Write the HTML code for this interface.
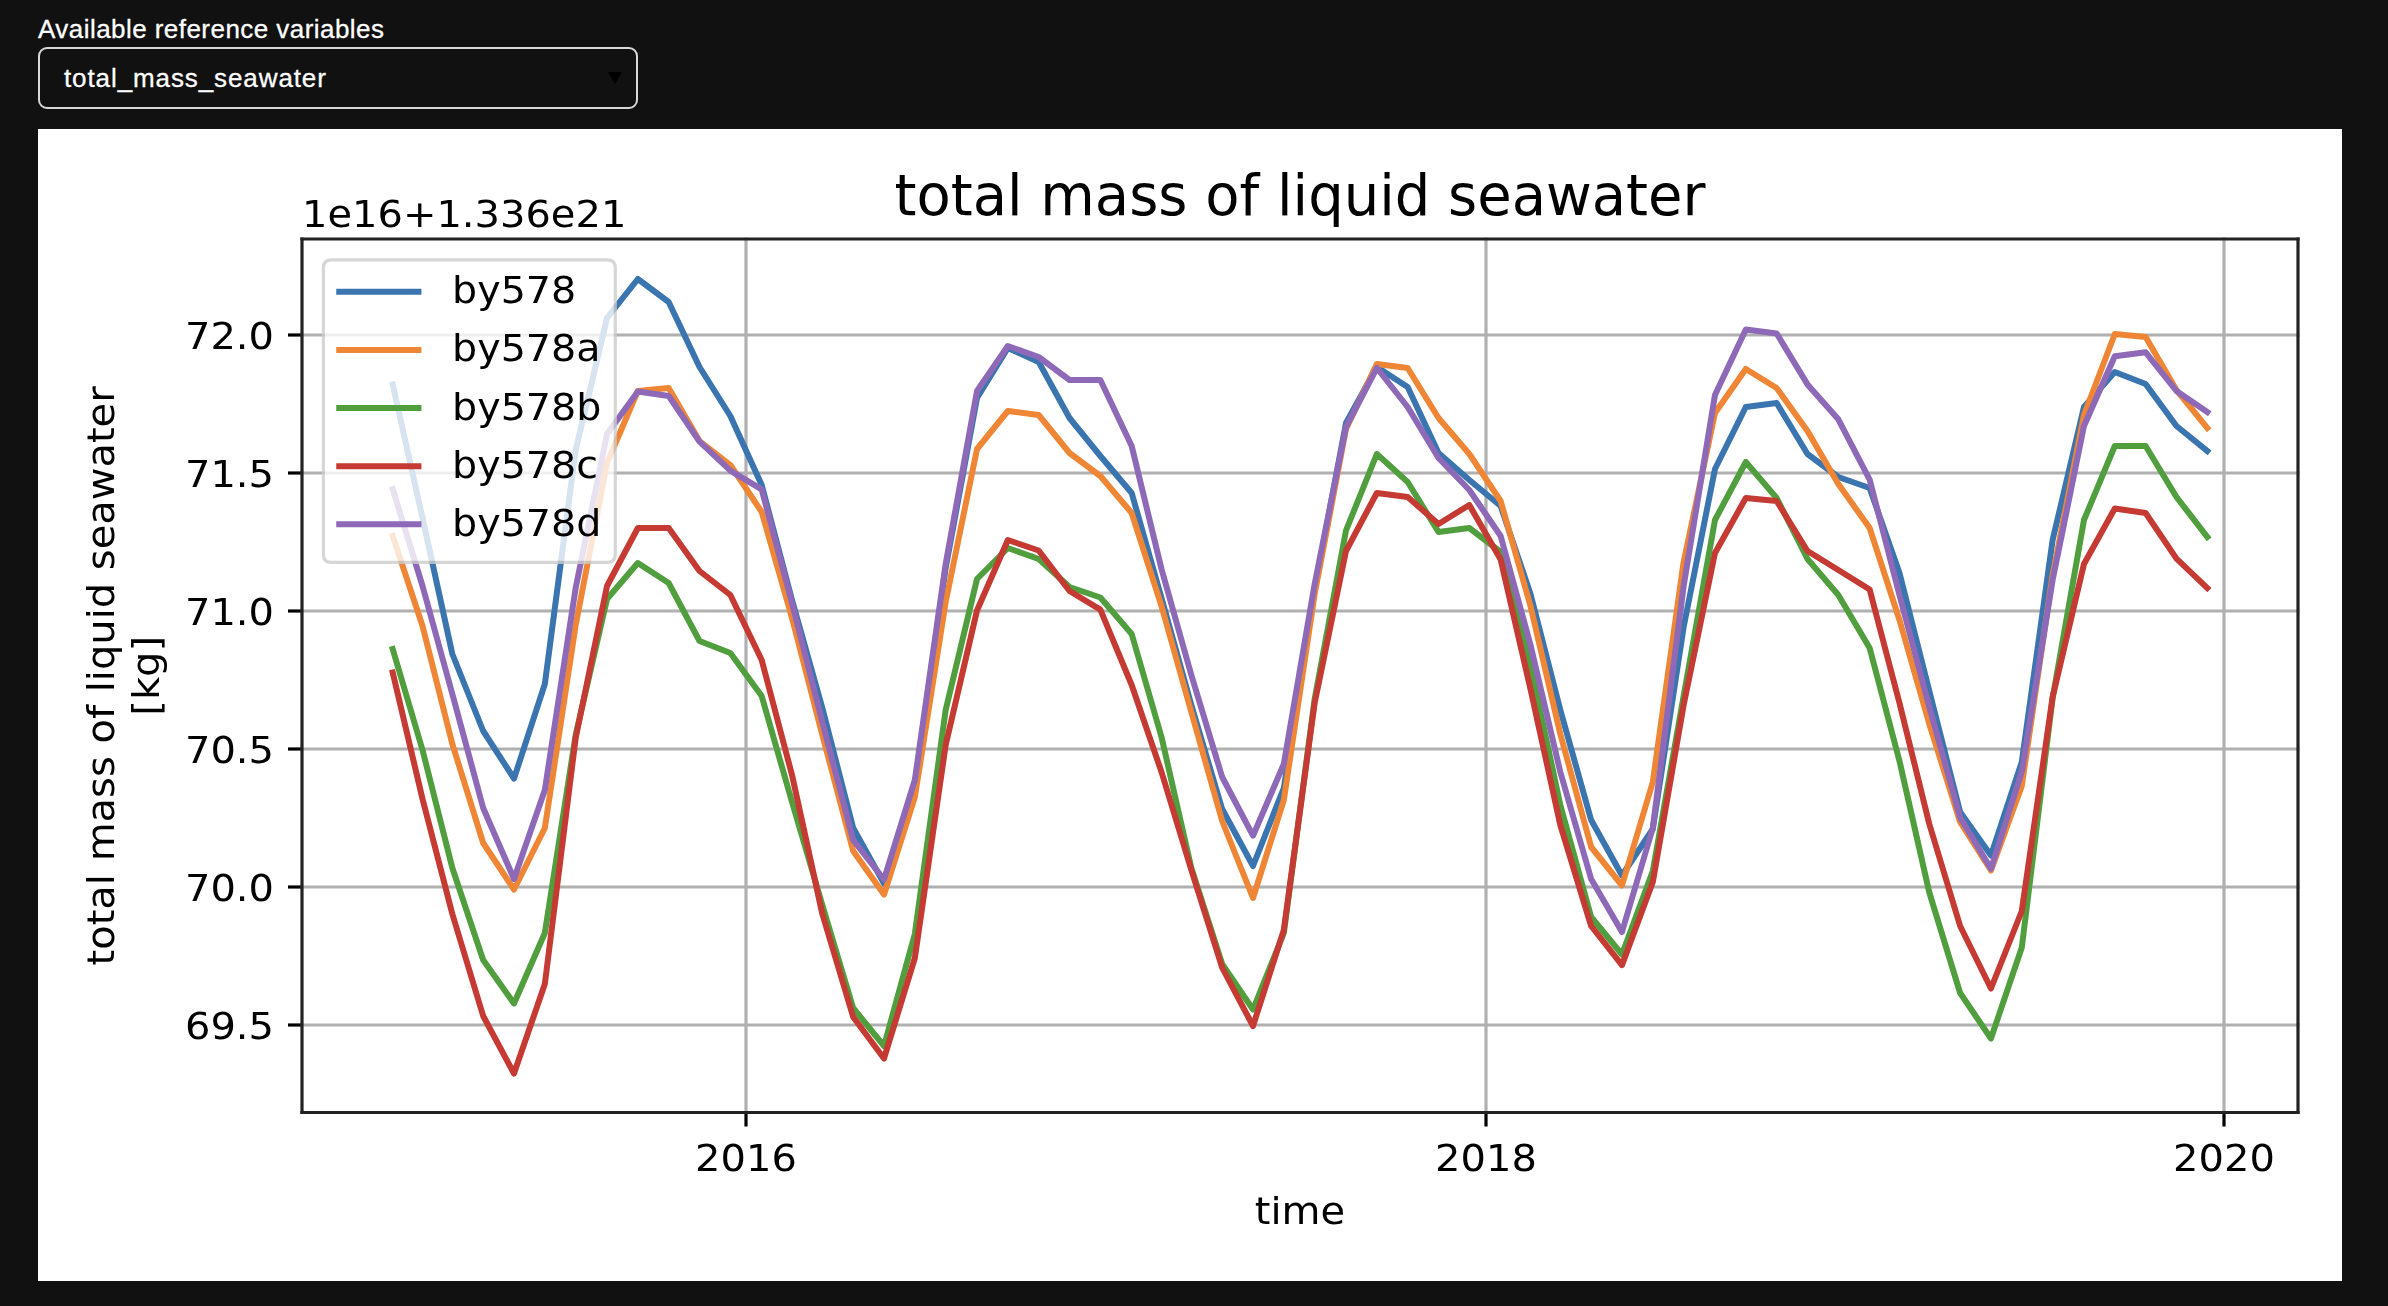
<!DOCTYPE html>
<html>
<head>
<meta charset="utf-8">
<title>Available reference variables</title>
<style>
html,body{margin:0;padding:0;background:#111111;}
body{width:2388px;height:1306px;position:relative;overflow:hidden;font-family:"Liberation Sans",sans-serif;color:#fff;}
.lbl{position:absolute;left:38px;top:13px;font-size:26px;line-height:32px;color:#ffffff;white-space:nowrap;letter-spacing:0.45px;-webkit-text-stroke:0.3px #fff;}
.sel{position:absolute;left:38px;top:47px;width:596px;height:58px;border:2px solid #d8d8d8;border-radius:9px;background:#111111;}
.sel span{position:absolute;left:24px;top:13px;font-size:26px;line-height:32px;white-space:nowrap;letter-spacing:0.9px;-webkit-text-stroke:0.3px #fff;}
.sel i{position:absolute;left:568px;top:23px;width:0;height:0;border-left:7.5px solid transparent;border-right:7.5px solid transparent;border-top:12.5px solid #000;}
.panel{position:absolute;left:38px;top:129px;width:2304px;height:1152px;background:#fff;overflow:hidden;}
.panel svg{display:block;filter:blur(0.6px);}
</style>
</head>
<body>
<div class="lbl">Available reference variables</div>
<div class="sel"><span>total_mass_seawater</span><i></i></div>
<div class="panel">
<svg width="2304" height="1152" viewBox="0 0 576 288">
<style>.mpl *{stroke-linejoin:round;stroke-linecap:butt}</style>
<g id="figure_1" class="mpl">
<g id="patch_1">
<path d="M 0 288 L 576 288 L 576 0 L 0 0 z" style="fill: #ffffff"/>
</g>
<g id="axes_1">
<g id="patch_2">
<path d="M 66 245.875 L 565 245.875 L 565 27.5 L 66 27.5 z" style="fill: #ffffff"/>
</g>
<g id="matplotlib.axis_1">
<g id="xtick_1">
<g id="line2d_1">
<path d="M 177 245.875 L 177 27.5" style="fill: none; stroke: #b0b0b0; stroke-width: 0.8; stroke-linecap: square"/>
</g>
<g id="line2d_2">
<g>
<path d="M 0 0 L 0 3.5" transform="translate(177 245.875)" style="stroke: #000000; stroke-width: 0.8"/>
</g>
</g>
<g id="text_1">
<text style="font-size: 10px; font-family: 'DejaVu Sans', 'Liberation Sans', sans-serif; text-anchor: middle" transform="translate(177.000 260.473) scale(1 0.94)">2016</text>
</g>
</g>
<g id="xtick_2">
<g id="line2d_3">
<path d="M 362 245.875 L 362 27.5" style="fill: none; stroke: #b0b0b0; stroke-width: 0.8; stroke-linecap: square"/>
</g>
<g id="line2d_4">
<g>
<path d="M 0 0 L 0 3.5" transform="translate(362 245.875)" style="stroke: #000000; stroke-width: 0.8"/>
</g>
</g>
<g id="text_2">
<text style="font-size: 10px; font-family: 'DejaVu Sans', 'Liberation Sans', sans-serif; text-anchor: middle" transform="translate(362.000 260.473) scale(1 0.94)">2018</text>
</g>
</g>
<g id="xtick_3">
<g id="line2d_5">
<path d="M 546.5 245.875 L 546.5 27.5" style="fill: none; stroke: #b0b0b0; stroke-width: 0.8; stroke-linecap: square"/>
</g>
<g id="line2d_6">
<g>
<path d="M 0 0 L 0 3.5" transform="translate(546.5 245.875)" style="stroke: #000000; stroke-width: 0.8"/>
</g>
</g>
<g id="text_3">
<text style="font-size: 10px; font-family: 'DejaVu Sans', 'Liberation Sans', sans-serif; text-anchor: middle" transform="translate(546.500 260.473) scale(1 0.94)">2020</text>
</g>
</g>
<g id="text_4">
<text style="font-size: 10px; font-family: 'DejaVu Sans', 'Liberation Sans', sans-serif; text-anchor: middle" transform="translate(315.500 273.802) scale(1 0.94)">time</text>
</g>
</g>
<g id="matplotlib.axis_2">
<g id="ytick_1">
<g id="line2d_7">
<path d="M 66 224 L 565 224" style="fill: none; stroke: #b0b0b0; stroke-width: 0.8; stroke-linecap: square"/>
</g>
<g id="line2d_8">
<g>
<path d="M 0 0 L -3.5 0" transform="translate(66 224)" style="stroke: #000000; stroke-width: 0.8"/>
</g>
</g>
<g id="text_5">
<text style="font-size: 10px; font-family: 'DejaVu Sans', 'Liberation Sans', sans-serif; text-anchor: end" transform="translate(59.000 227.499) scale(1 0.94)">69.5</text>
</g>
</g>
<g id="ytick_2">
<g id="line2d_9">
<path d="M 66 189.5 L 565 189.5" style="fill: none; stroke: #b0b0b0; stroke-width: 0.8; stroke-linecap: square"/>
</g>
<g id="line2d_10">
<g>
<path d="M 0 0 L -3.5 0" transform="translate(66 189.5)" style="stroke: #000000; stroke-width: 0.8"/>
</g>
</g>
<g id="text_6">
<text style="font-size: 10px; font-family: 'DejaVu Sans', 'Liberation Sans', sans-serif; text-anchor: end" transform="translate(59.000 192.999) scale(1 0.94)">70.0</text>
</g>
</g>
<g id="ytick_3">
<g id="line2d_11">
<path d="M 66 155 L 565 155" style="fill: none; stroke: #b0b0b0; stroke-width: 0.8; stroke-linecap: square"/>
</g>
<g id="line2d_12">
<g>
<path d="M 0 0 L -3.5 0" transform="translate(66 155)" style="stroke: #000000; stroke-width: 0.8"/>
</g>
</g>
<g id="text_7">
<text style="font-size: 10px; font-family: 'DejaVu Sans', 'Liberation Sans', sans-serif; text-anchor: end" transform="translate(59.000 158.499) scale(1 0.94)">70.5</text>
</g>
</g>
<g id="ytick_4">
<g id="line2d_13">
<path d="M 66 120.5 L 565 120.5" style="fill: none; stroke: #b0b0b0; stroke-width: 0.8; stroke-linecap: square"/>
</g>
<g id="line2d_14">
<g>
<path d="M 0 0 L -3.5 0" transform="translate(66 120.5)" style="stroke: #000000; stroke-width: 0.8"/>
</g>
</g>
<g id="text_8">
<text style="font-size: 10px; font-family: 'DejaVu Sans', 'Liberation Sans', sans-serif; text-anchor: end" transform="translate(59.000 123.999) scale(1 0.94)">71.0</text>
</g>
</g>
<g id="ytick_5">
<g id="line2d_15">
<path d="M 66 86 L 565 86" style="fill: none; stroke: #b0b0b0; stroke-width: 0.8; stroke-linecap: square"/>
</g>
<g id="line2d_16">
<g>
<path d="M 0 0 L -3.5 0" transform="translate(66 86)" style="stroke: #000000; stroke-width: 0.8"/>
</g>
</g>
<g id="text_9">
<text style="font-size: 10px; font-family: 'DejaVu Sans', 'Liberation Sans', sans-serif; text-anchor: end" transform="translate(59.000 89.499) scale(1 0.94)">71.5</text>
</g>
</g>
<g id="ytick_6">
<g id="line2d_17">
<path d="M 66 51.5 L 565 51.5" style="fill: none; stroke: #b0b0b0; stroke-width: 0.8; stroke-linecap: square"/>
</g>
<g id="line2d_18">
<g>
<path d="M 0 0 L -3.5 0" transform="translate(66 51.5)" style="stroke: #000000; stroke-width: 0.8"/>
</g>
</g>
<g id="text_10">
<text style="font-size: 10px; font-family: 'DejaVu Sans', 'Liberation Sans', sans-serif; text-anchor: end" transform="translate(59.000 54.999) scale(1 0.94)">72.0</text>
</g>
</g>
<g id="text_11">
<text style="font-size: 10px; font-family: 'DejaVu Sans', 'Liberation Sans', sans-serif" transform="translate(19.007 209.115) rotate(-90) scale(1 0.94)">total mass of liquid seawater</text>
<text style="font-size: 10px; font-family: 'DejaVu Sans', 'Liberation Sans', sans-serif" transform="translate(30.205 146.659) rotate(-90) scale(1 0.94)">[kg]</text>
</g>
<g id="text_12">
<text style="font-size: 10px; font-family: 'DejaVu Sans', 'Liberation Sans', sans-serif; text-anchor: start" transform="translate(66.000 24.500) scale(1 0.94)">1e16+1.336e21</text>
</g>
</g>
<g id="line2d_19">
<path d="M 88.675 63.875 L 96.130529 97.25 L 103.586058 131.25 L 111.294318 150.5 L 119.002577 162.375 L 126.710836 138.75 L 134.419095 80.25 L 142.253719 47.25 L 149.961978 37.5 L 157.670237 43.25 L 165.378496 59.5 L 173.086755 71.75 L 180.921379 89 L 188.503273 117.75 L 196.085167 144.75 L 203.793426 174.75 L 211.501685 188.625 L 219.209944 164 L 226.918203 109.75 L 234.752827 67.25 L 242.461086 54.75 L 250.169345 58.25 L 257.877604 72.25 L 265.585864 81.75 L 273.420487 91 L 280.876017 117.25 L 288.331546 144 L 296.039805 170 L 303.748064 184.25 L 311.456323 164.75 L 319.164582 115 L 326.999206 73.5 L 334.707465 59.5 L 342.415724 64.5 L 350.123983 81 L 357.832242 87.75 L 365.666866 94.25 L 373.122396 116.25 L 380.577925 145.25 L 388.286184 172.75 L 395.994443 186.625 L 403.702702 175 L 411.410961 124.5 L 419.245585 85 L 426.953844 69.5 L 434.662103 68.5 L 442.370362 81.25 L 450.078621 87 L 457.913245 89.75 L 465.368774 111 L 472.824304 140.5 L 480.532563 170.75 L 488.240822 181.625 L 495.949081 158.25 L 503.65734 102.75 L 511.491964 69.5 L 519.200223 60.75 L 526.908482 63.75 L 534.616741 74.25 L 542.325 80.5" style="fill: none; stroke: #3b75af; stroke-width: 1.5; stroke-linecap: square"/>
</g>
<g id="line2d_20">
<path d="M 88.675 101.75 L 96.130529 124.25 L 103.586058 153.75 L 111.294318 178.5 L 119.002577 190.125 L 126.710836 174.75 L 134.419095 124 L 142.253719 83.5 L 149.961978 65.5 L 157.670237 64.75 L 165.378496 78 L 173.086755 84 L 180.921379 95.75 L 188.503273 122.25 L 196.085167 151.5 L 203.793426 180.5 L 211.501685 191.375 L 219.209944 167 L 226.918203 118.25 L 234.752827 80 L 242.461086 70.5 L 250.169345 71.5 L 257.877604 81 L 265.585864 86.75 L 273.420487 96 L 280.876017 119.25 L 288.331546 145.75 L 296.039805 173 L 303.748064 192.25 L 311.456323 167.75 L 319.164582 116.25 L 326.999206 75 L 334.707465 58.75 L 342.415724 59.75 L 350.123983 72.25 L 357.832242 81.25 L 365.666866 93 L 373.122396 119.25 L 380.577925 151.25 L 388.286184 179.5 L 395.994443 189.125 L 403.702702 163.25 L 411.410961 108.25 L 419.245585 71 L 426.953844 60 L 434.662103 64.75 L 442.370362 75.5 L 450.078621 88.75 L 457.913245 99.75 L 465.368774 122.75 L 472.824304 148.75 L 480.532563 173.25 L 488.240822 185.375 L 495.949081 164.25 L 503.65734 111.5 L 511.491964 71.5 L 519.200223 51.25 L 526.908482 52 L 534.616741 65.25 L 542.325 74.75" style="fill: none; stroke: #ef8636; stroke-width: 1.5; stroke-linecap: square"/>
</g>
<g id="line2d_21">
<path d="M 88.675 130 L 96.130529 155.25 L 103.586058 184.75 L 111.294318 207.75 L 119.002577 218.625 L 126.710836 201 L 134.419095 151.5 L 142.253719 117.5 L 149.961978 108.5 L 157.670237 113.5 L 165.378496 128 L 173.086755 131 L 180.921379 141.75 L 188.503273 168.25 L 196.085167 194 L 203.793426 219.75 L 211.501685 229.25 L 219.209944 201.25 L 226.918203 145.25 L 234.752827 112.5 L 242.461086 104.75 L 250.169345 107.5 L 257.877604 114.5 L 265.585864 117.125 L 273.420487 126.25 L 280.876017 152 L 288.331546 184.75 L 296.039805 208.75 L 303.748064 220.125 L 311.456323 201 L 319.164582 142.5 L 326.999206 100.375 L 334.707465 81.25 L 342.415724 88.25 L 350.123983 100.75 L 357.832242 99.75 L 365.666866 105.75 L 373.122396 134 L 380.577925 169 L 388.286184 197 L 395.994443 206.375 L 403.702702 185.5 L 411.410961 141.75 L 419.245585 97.75 L 426.953844 83.25 L 434.662103 92.25 L 442.370362 107.5 L 450.078621 116.5 L 457.913245 129.75 L 465.368774 158 L 472.824304 190.875 L 480.532563 216 L 488.240822 227.375 L 495.949081 204.625 L 503.65734 142.25 L 511.491964 97.75 L 519.200223 79.25 L 526.908482 79.25 L 534.616741 92 L 542.325 102" style="fill: none; stroke: #519e3e; stroke-width: 1.5; stroke-linecap: square"/>
</g>
<g id="line2d_22">
<path d="M 88.675 135.875 L 96.130529 167.5 L 103.586058 196.25 L 111.294318 221.75 L 119.002577 236.125 L 126.710836 213.75 L 134.419095 152.25 L 142.253719 114.25 L 149.961978 99.75 L 157.670237 99.75 L 165.378496 110.5 L 173.086755 116.5 L 180.921379 132.75 L 188.503273 161.5 L 196.085167 196.25 L 203.793426 222 L 211.501685 232.375 L 219.209944 207.25 L 226.918203 154 L 234.752827 120.375 L 242.461086 102.75 L 250.169345 105.375 L 257.877604 115.5 L 265.585864 120.15 L 273.420487 139 L 280.876017 160.75 L 288.331546 185.25 L 296.039805 209.65 L 303.748064 224.25 L 311.456323 200.25 L 319.164582 143.5 L 326.999206 105.5 L 334.707465 91 L 342.415724 92 L 350.123983 98.75 L 357.832242 94 L 365.666866 107.625 L 373.122396 140 L 380.577925 174 L 388.286184 199.25 L 395.994443 209.025 L 403.702702 188.25 L 411.410961 144 L 419.245585 106 L 426.953844 92.25 L 434.662103 93 L 442.370362 105.5 L 450.078621 110.25 L 457.913245 115.125 L 465.368774 143.5 L 472.824304 173.75 L 480.532563 199.25 L 488.240822 214.875 L 495.949081 195.5 L 503.65734 142 L 511.491964 108.75 L 519.200223 94.875 L 526.908482 96 L 534.616741 107.4 L 542.325 114.75" style="fill: none; stroke: #c53a32; stroke-width: 1.5; stroke-linecap: square"/>
</g>
<g id="line2d_23">
<path d="M 88.675 90 L 96.130529 114.25 L 103.586058 141.25 L 111.294318 169.75 L 119.002577 187.5 L 126.710836 165.25 L 134.419095 114.75 L 142.253719 76.25 L 149.961978 65.625 L 157.670237 66.75 L 165.378496 78.15 L 173.086755 85.4 L 180.921379 90.1 L 188.503273 118.5 L 196.085167 148.25 L 203.793426 177.75 L 211.501685 187.625 L 219.209944 162.75 L 226.918203 108.75 L 234.752827 65.5 L 242.461086 54.25 L 250.169345 57 L 257.877604 62.75 L 265.585864 62.75 L 273.420487 79.25 L 280.876017 110 L 288.331546 136.5 L 296.039805 162 L 303.748064 176.675 L 311.456323 158.75 L 319.164582 113.75 L 326.999206 74.5 L 334.707465 59.75 L 342.415724 69.5 L 350.123983 82.25 L 357.832242 90.25 L 365.666866 101.75 L 373.122396 129 L 380.577925 160.75 L 388.286184 187.5 L 395.994443 200.75 L 403.702702 174.75 L 411.410961 114.25 L 419.245585 66.5 L 426.953844 50.125 L 434.662103 51.125 L 442.370362 63.85 L 450.078621 72.575 L 457.913245 87.65 L 465.368774 116.5 L 472.824304 144.5 L 480.532563 172.1 L 488.240822 184.95 L 495.949081 160.675 L 503.65734 112.75 L 511.491964 74.25 L 519.200223 56.825 L 526.908482 55.825 L 534.616741 65.5 L 542.325 70.75" style="fill: none; stroke: #8d69b8; stroke-width: 1.5; stroke-linecap: square"/>
</g>
<g id="patch_3">
<path d="M 66 245.875 L 66 27.5" style="fill: none; stroke: #222222; stroke-width: 0.8; stroke-linejoin: miter; stroke-linecap: square"/>
</g>
<g id="patch_4">
<path d="M 565 245.875 L 565 27.5" style="fill: none; stroke: #222222; stroke-width: 0.8; stroke-linejoin: miter; stroke-linecap: square"/>
</g>
<g id="patch_5">
<path d="M 66 245.875 L 565 245.875" style="fill: none; stroke: #222222; stroke-width: 0.8; stroke-linejoin: miter; stroke-linecap: square"/>
</g>
<g id="patch_6">
<path d="M 66 27.5 L 565 27.5" style="fill: none; stroke: #222222; stroke-width: 0.8; stroke-linejoin: miter; stroke-linecap: square"/>
</g>
<g id="text_13">
<text style="font-size: 14px; font-family: 'DejaVu Sans', 'Liberation Sans', sans-serif; text-anchor: middle" transform="translate(315.500 21.500) scale(1 1.03)">total mass of liquid seawater</text>
</g>
<g id="legend_1" transform="translate(0.4 0.25)">
<g id="patch_7">
<path d="M 72.93 108.076719 L 141.936094 108.076719 Q 143.916094 108.076719 143.916094 106.096719 L 143.916094 34.43 Q 143.916094 32.45 141.936094 32.45 L 72.93 32.45 Q 70.95 32.45 70.95 34.43 L 70.95 106.096719 Q 70.95 108.076719 72.93 108.076719 z" style="fill: #ffffff; opacity: 0.8; stroke: #cccccc; stroke-width: 0.8; stroke-linejoin: miter"/>
</g>
<g id="line2d_24">
<path d="M 74.91 40.467453 L 84.81 40.467453 L 94.71 40.467453" style="fill: none; stroke: #3b75af; stroke-width: 1.5; stroke-linecap: square"/>
</g>
<g id="text_14">
<text style="font-size: 9.9px; font-family: 'DejaVu Sans', 'Liberation Sans', sans-serif; text-anchor: start" transform="translate(103.130 43.332) scale(1 0.94)">by578</text>
</g>
<g id="line2d_25">
<path d="M 74.91 54.998797 L 84.81 54.998797 L 94.71 54.998797" style="fill: none; stroke: #ef8636; stroke-width: 1.5; stroke-linecap: square"/>
</g>
<g id="text_15">
<text style="font-size: 9.9px; font-family: 'DejaVu Sans', 'Liberation Sans', sans-serif; text-anchor: start" transform="translate(103.130 57.864) scale(1 0.94)">by578a</text>
</g>
<g id="line2d_26">
<path d="M 74.91 69.530141 L 84.81 69.530141 L 94.71 69.530141" style="fill: none; stroke: #519e3e; stroke-width: 1.5; stroke-linecap: square"/>
</g>
<g id="text_16">
<text style="font-size: 9.9px; font-family: 'DejaVu Sans', 'Liberation Sans', sans-serif; text-anchor: start" transform="translate(103.130 72.395) scale(1 0.94)">by578b</text>
</g>
<g id="line2d_27">
<path d="M 74.91 84.061484 L 84.81 84.061484 L 94.71 84.061484" style="fill: none; stroke: #c53a32; stroke-width: 1.5; stroke-linecap: square"/>
</g>
<g id="text_17">
<text style="font-size: 9.9px; font-family: 'DejaVu Sans', 'Liberation Sans', sans-serif; text-anchor: start" transform="translate(103.130 86.926) scale(1 0.94)">by578c</text>
</g>
<g id="line2d_28">
<path d="M 74.91 98.592828 L 84.81 98.592828 L 94.71 98.592828" style="fill: none; stroke: #8d69b8; stroke-width: 1.5; stroke-linecap: square"/>
</g>
<g id="text_18">
<text style="font-size: 9.9px; font-family: 'DejaVu Sans', 'Liberation Sans', sans-serif; text-anchor: start" transform="translate(103.130 101.458) scale(1 0.94)">by578d</text>
</g>
</g>
</g>
</g>
</svg>

</div>
</body>
</html>
